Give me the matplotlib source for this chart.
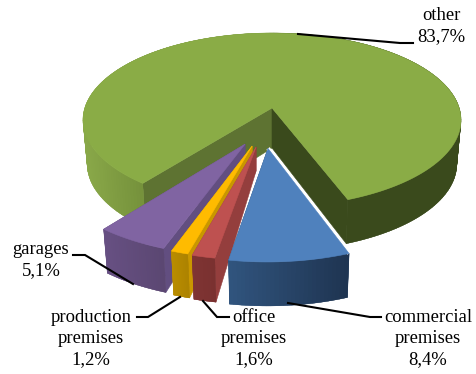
import numpy as np
import matplotlib
matplotlib.use("Agg")
import matplotlib.pyplot as plt
from matplotlib.colors import to_rgb
from matplotlib.patches import Polygon

# ---- data
categories = ["other", "commercial", "office", "production", "garages"]
values = [83.7, 8.4, 1.6, 1.2, 5.1]
label_lines = {
    "other": ["other", "83,7%"],
    "commercial": ["commercial", "premises", "8,4%"],
    "office": ["office", "premises", "1,6%"],
    "production": ["production", "premises", "1,2%"],
    "garages": ["garages", "5,1%"],
}

# ---- styles and projection
W, H = 476, 374
START_ANGLE = 218.0          # clockwise from the far side of the pie
CX, CY = 272.0, 108.0        # pie centre on the canvas
A, B, K = 187.2, 85.3, 0.138 # perspective projection
DEPTH = 44.0
BOTTOM_SCALE = 0.978
EXPLODE = {"other": (0, 0), "commercial": (-0.02, -0.445), "office": (-0.08, -0.43),
           "production": (-0.10, -0.42), "garages": (-0.136, -0.40)}
APEX_DEPTH = {"other": 40, "commercial": 25, "office": 24, "production": 24, "garages": 24}
TOP = {"other": "#8AAC46", "commercial": "#4F81BD", "office": "#BE5150",
       "production": "#FFBB00", "garages": "#8064A2"}
WALL_L = {"other": "#8AA949", "commercial": "#31557F", "office": "#7F3433",
          "production": "#BA8D00", "garages": "#675083"}
WALL_R = {"other": "#76923C", "commercial": "#1F3552", "office": "#7A3130",
          "production": "#AD8300", "garages": "#5B4772"}
SIDE_IN = {"other": "#3A4A1C", "commercial": "#2E4F74", "office": "#943E3D",
           "production": "#C99700", "garages": "#624E80"}
SIDE_OUT = {"other": "#5E7332", "commercial": "#2E4F74", "office": "#943E3D",
            "production": "#C99700", "garages": "#624E80"}
OTHER_RIGHT_WALL = "#3A4A1C"
OTHER_LEFT_END_X = 143

leaders = {
    "other": [(298, 34), (400, 43), (413, 43)],
    "commercial": [(288, 303), (370, 317), (381, 317)],
    "office": [(203, 301), (217, 317), (229, 317)],
    "production": [(180, 297), (148, 317), (137, 317)],
    "garages": [(133, 284), (85, 255), (73, 255)],
}
label_pos = {"other": (441, 15), "commercial": (428, 317), "office": (254, 317),
             "production": (91, 317), "garages": (41, 249)}
LINE_H = 21.5


def project(px, py, bottom=False):
    w = 1 + K * py
    sx = CX + A * px / w
    sy = CY - B * py / w
    if bottom:
        sx = CX + (sx - CX) * BOTTOM_SCALE
        sy = sy + DEPTH
    return sx, sy


def arc_points(a0, a1, off, bottom=False, n=90):
    th = np.radians(np.linspace(a0, a1, n))
    return project(np.sin(th) + off[0], np.cos(th) + off[1], bottom)


def mix(c0, c1, t):
    c0, c1 = np.array(to_rgb(c0)), np.array(to_rgb(c1))
    return tuple(c0 + (c1 - c0) * t)


fig = plt.figure(figsize=(W / 100, H / 100), dpi=100)
ax = fig.add_axes([0, 0, 1, 1])
ax.set_xlim(0, W)
ax.set_ylim(H, 0)
ax.axis("off")


def poly(pts, color, z, lw=0.4):
    ax.add_patch(Polygon(pts, closed=True, facecolor=color, edgecolor=color,
                         linewidth=lw, zorder=z))


# slice angular extents
spans = np.array(values) / sum(values) * 360
starts = START_ANGLE + np.concatenate([[0], np.cumsum(spans)[:-1]])
extent = {c: (s, s + d) for c, s, d in zip(categories, starts, spans)}

# draw far to near: other, garages, production, office, commercial
order = ["other", "garages", "production", "office", "commercial"]
z = 1
for cat in order:
    a0, a1 = extent[cat]
    off = EXPLODE[cat]
    ax0, ay0 = project(off[0], off[1])
    apex_bottom = (ax0, ay0 + APEX_DEPTH[cat])
    n = 240 if cat == "other" else 30
    tx, ty = arc_points(a0, a1, off, n=n)
    bx, by = arc_points(a0, a1, off, bottom=True, n=n)

    # radial faces
    poly([(ax0, ay0), (tx[0], ty[0]), (bx[0], by[0]), apex_bottom], SIDE_OUT[cat], z)
    poly([(ax0, ay0), (tx[-1], ty[-1]), (bx[-1], by[-1]), apex_bottom], SIDE_IN[cat], z + 1)
    z += 2

    # outer wall as overlapping shaded strips, no seams between them
    xmin, xmax = tx.min(), tx.max()
    idx = np.argsort(tx)
    for i in idx:
        j = min(i + 1, len(tx) - 1)
        k = max(i - 1, 0)
        if cat == "other":
            if tx[i] > CX:
                col = OTHER_RIGHT_WALL
            else:
                col = mix(WALL_L[cat], WALL_R[cat],
                          min((tx[i] - xmin) / (OTHER_LEFT_END_X - xmin), 1))
        else:
            col = mix(WALL_L[cat], WALL_R[cat], (tx[i] - xmin) / max(xmax - xmin, 1e-6))
        poly([(tx[k], ty[k]), (tx[j], ty[j]), (bx[j], by[j]), (bx[k], by[k])], col, z, lw=0.2)
    z += 1

    if cat == "commercial":
        # thin light rim along the right-hand radial edge
        ax.plot([ax0, tx[0]], [ay0, ty[0]], color="white", lw=3.0,
                solid_capstyle="butt", zorder=z)
        z += 1

    # top face
    poly([(ax0, ay0)] + list(zip(tx, ty)), TOP[cat], z)
    z += 1

# leader lines
for cat, pts in leaders.items():
    xs, ys = zip(*pts)
    ax.plot(xs, ys, color="black", lw=1.5, solid_joinstyle="miter", zorder=z)

# labels
for cat, lines in label_lines.items():
    x, y = label_pos[cat]
    for i, line in enumerate(lines):
        ax.text(x, y + i * LINE_H, line, family="Liberation Serif", fontsize=13.4,
                color="black", ha="center", va="center", zorder=z + 1)

fig.savefig("out.png", dpi=100, facecolor="white")
